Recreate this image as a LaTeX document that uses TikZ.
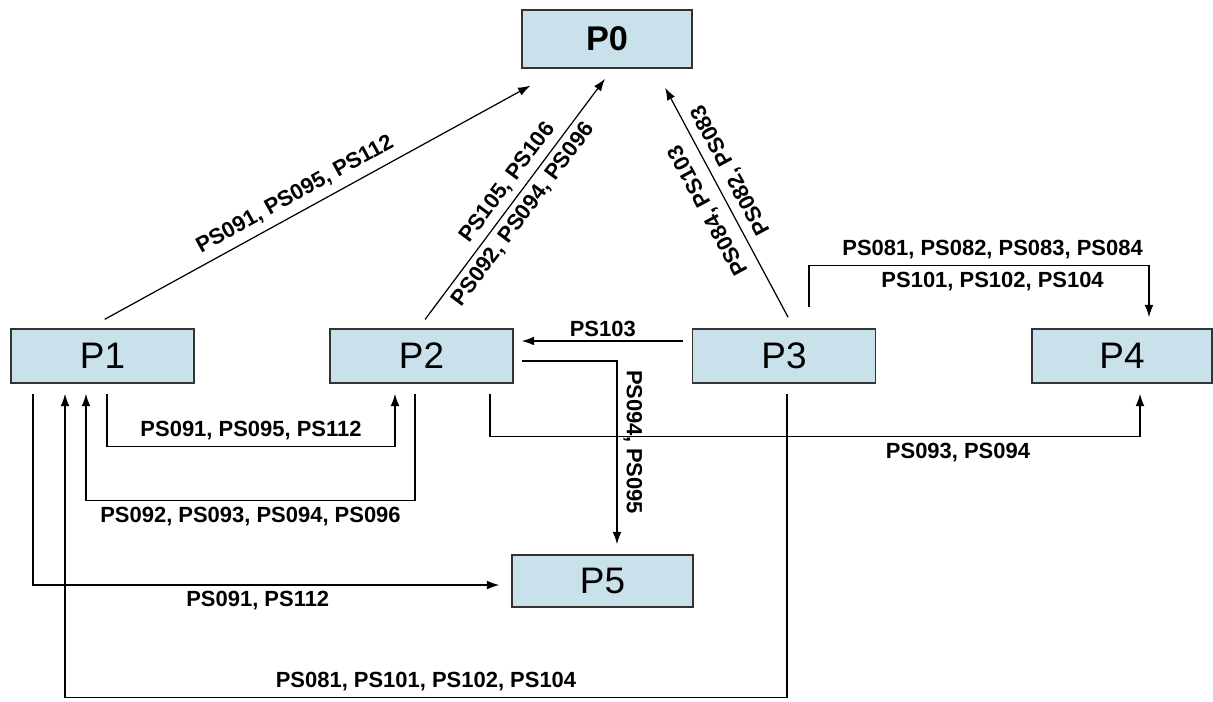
\documentclass[tikz,border=0pt]{standalone}
\usepackage{fontspec}
\setmainfont{Liberation Sans}
\usepackage{tikz}
\usetikzlibrary{arrows.meta}

\definecolor{boxblue}{RGB}{200,225,235}

\begin{document}
\begin{tikzpicture}[x=0.02cm,y=-0.02cm,>={Latex[length=7pt,width=5pt]},
                    proc/.style={draw=black!80,fill=boxblue,line width=0.9pt,inner sep=0pt,
                                 minimum width=3.66cm,minimum height=1.08cm,font=\fontsize{21}{25}\selectfont},
                    flow/.style={->,line width=0.7pt,shorten <=0.2cm,shorten >=0.2cm},
                    lbl/.style={font=\fontsize{12.5}{15}\selectfont\bfseries}]

\useasboundingbox (0,0) rectangle (1213,701);

\node[proc,minimum width=3.4cm,minimum height=1.16cm,font=\fontsize{19.5}{23}\selectfont\bfseries] (P0) at (607,39) {P0};
\node[proc] (P1) at (102.5,356) {P1};
\node[proc] (P2) at (421.5,356) {P2};
\node[proc] (P3) at (784,356) {P3};
\node[proc,minimum width=3.6cm] (P4) at (1122,356) {P4};
\node[proc,minimum width=3.62cm,minimum height=1.04cm] (P5) at (602.5,581) {P5};

\draw[flow,shorten <=0.37cm,shorten >=0.7cm] ([xshift=-0.28cm]P1.north) -- node[lbl,sloped,above=1pt,pos=0.455]{PS091, PS095, PS112} ([xshift=-0.92cm]P0.south);
\draw[flow,shorten <=0.22cm,shorten >=0.25cm] ([xshift=-0.06cm]P2.north) -- node[lbl,sloped,above,pos=0.525]{PS105, PS106} node[lbl,sloped,below,pos=0.475]{PS092, PS094, PS096} ([xshift=0.11cm]P0.south);
\draw[flow,shorten <=0.25cm,shorten >=0.43cm] ([xshift=0.2cm]P3.north) -- node[lbl,sloped,allow upside down,above=2pt,pos=0.49]{PS084, PS103} node[lbl,sloped,allow upside down,below=2pt,pos=0.575]{PS082, PS083} ([xshift=0.96cm]P0.south);

\draw[flow] ([xshift=0.09cm]P1.south) -- ++(0,63) -| node[lbl,above,pos=0.25]{PS091, PS095, PS112} ([xshift=-0.53cm]P2.south);
\draw[flow] ([xshift=-0.13cm]P2.south) -- ++(0,117) -| node[lbl,below,pos=0.25]{PS092, PS093, PS094, PS096} ([xshift=-0.33cm]P1.south);
\draw[flow,shorten >=0.24cm] ([xshift=-1.39cm]P1.south) |- node[lbl,below,pos=0.735]{PS091, PS112} ([yshift=-0.08cm]P5.west);
\draw[flow] ([xshift=0.06cm]P3.south) -- ++(0,314) -| node[lbl,above,pos=0.25]{PS081, PS101, PS102, PS104} ([xshift=-0.75cm]P1.south);
\draw[flow,shorten <=0.16cm] ([yshift=-0.1cm]P2.east) -| node[lbl,rotate=-90,anchor=south,pos=0.71]{PS094, PS095} ([xshift=0.29cm]P5.north);
\draw[flow,shorten <=0.18cm,shorten >=0.16cm] ([yshift=0.3cm]P3.west) -- node[lbl,above,inner sep=2pt]{PS103} ([yshift=0.3cm]P2.east);
\draw[flow,shorten <=0.42cm,shorten >=0.22cm] ([xshift=0.5cm]P3.north) -- ++(0,-63) -| node[lbl,above,pos=0.27]{PS081, PS082, PS083, PS084} node[lbl,below,pos=0.27]{PS101, PS102, PS104} ([xshift=0.54cm]P4.north);
\draw[flow] ([xshift=1.37cm]P2.south) -- ++(0,53) -| node[lbl,below,pos=0.36]{PS093, PS094} ([xshift=0.36cm]P4.south);
\end{tikzpicture}
\end{document}
